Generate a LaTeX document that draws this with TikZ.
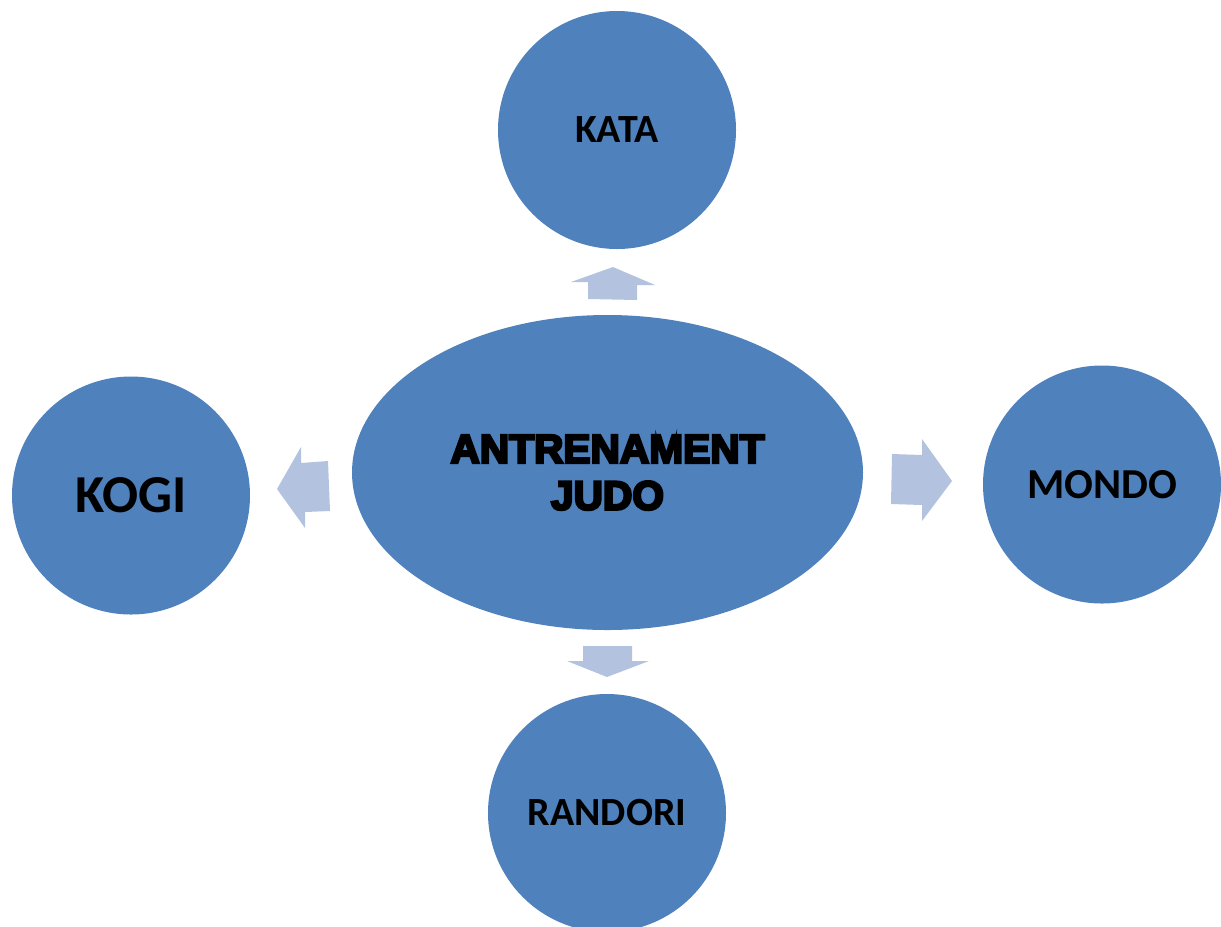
\documentclass[tikz,border=0pt]{standalone}
\usepackage{fontspec}
\usetikzlibrary{shapes.geometric}
\setmainfont{Carlito}
\newfontfamily\blackfont{Liberation Sans}[BoldFont={Liberation Sans Bold},BoldFeatures={FakeBold=6}]
\definecolor{circblue}{HTML}{4F81BD}
\definecolor{arrblue}{HTML}{B3C3DF}
\begin{document}
\begin{tikzpicture}[x=0.75pt,y=-0.75pt,
  bub/.style={circle,fill=circblue,minimum size=238*0.75pt,inner sep=0pt,font=\bfseries},
  arr/.style={fill=arrblue,draw=none}]
\useasboundingbox (0,0) rectangle (1221,926);
\clip (0,0) rectangle (1221,926);
\node[ellipse,fill=circblue,minimum width=511*0.75pt,minimum height=315*0.75pt,inner sep=0pt,align=center,
  font=\blackfont\bfseries\fontsize{30.5}{35}\selectfont] (main) at (607.5,472.5) {ANTRENAMENT\\JUDO};
\node[bub,font=\bfseries\fontsize{30}{34}\selectfont] (kata) at (617,130) {KATA};
\node[bub,font=\bfseries\fontsize{40}{44}\selectfont] (kogi) at (131,495.5) {KOGI};
\node[bub,font=\bfseries\fontsize{32}{36}\selectfont] (mondo) at (1102,484.5) {MONDO};
\node[bub,font=\bfseries\fontsize{30}{34}\selectfont] (randori) at (607,813) {RANDORI};
\fill[arr] (571,282) -- (613,267) -- (655,285) -- (637,285) -- (637,300) -- (588,299) -- (588,282) -- cycle;
\fill[arr] (301,447) -- (301,463) -- (328,461) -- (330,511) -- (305,512) -- (305,528) -- (277,489) -- cycle;
\fill[arr] (892,454) -- (922,455) -- (922,439) -- (952,481) -- (922,521) -- (922,505) -- (891,504) -- cycle;
\fill[arr] (583,646) -- (632,646) -- (632,661) -- (649,661) -- (607,677) -- (567,661) -- (583,661) -- cycle;
\end{tikzpicture}
\end{document}
